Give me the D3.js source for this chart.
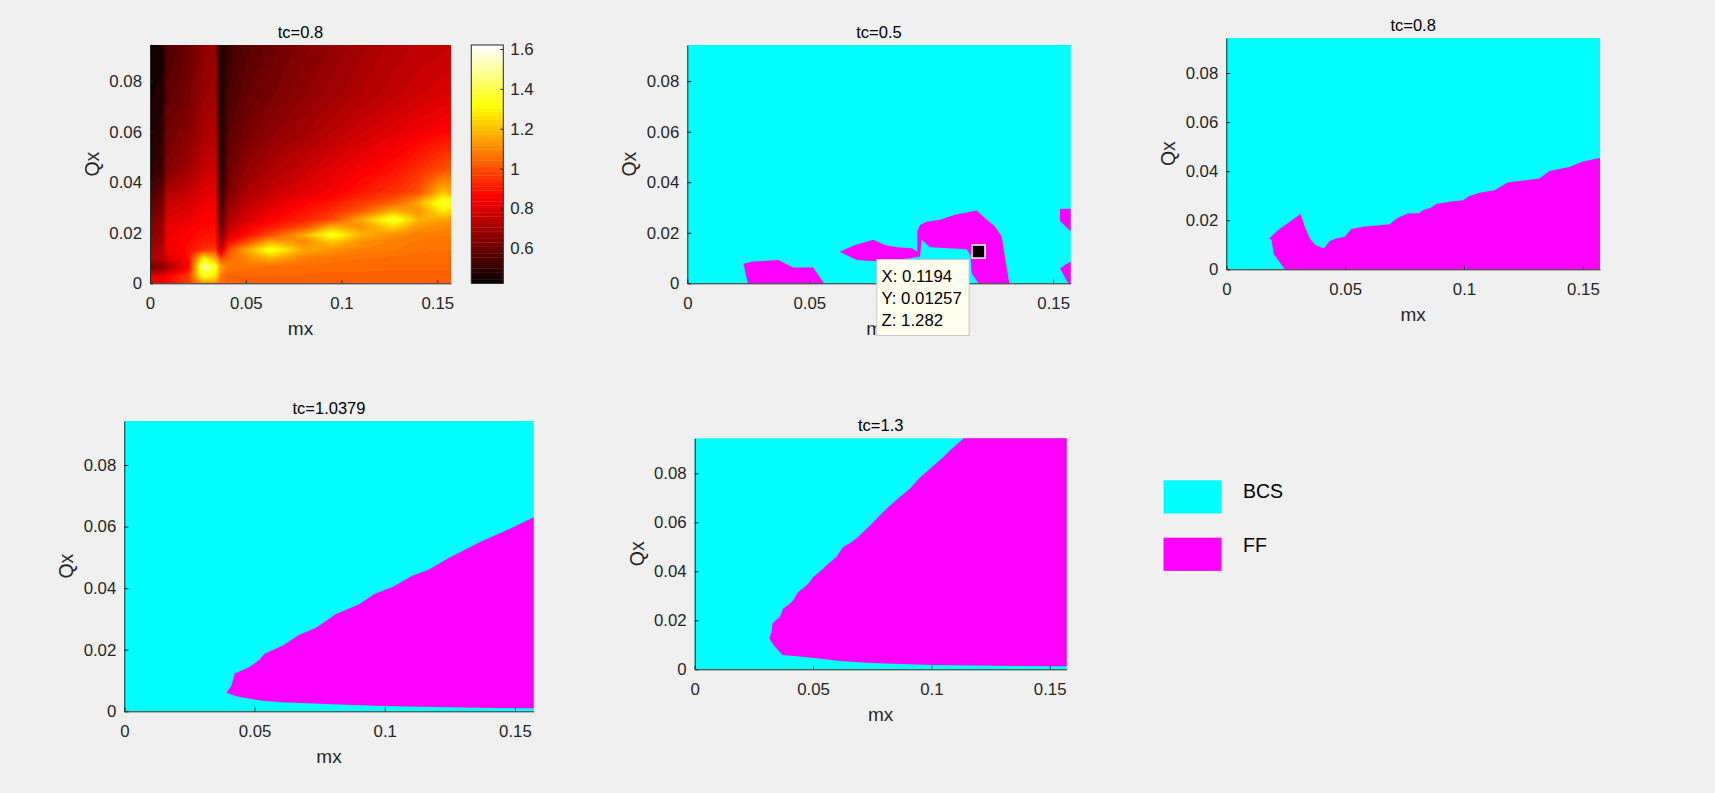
<!DOCTYPE html>
<html>
<head>
<meta charset="utf-8">
<script src="https://cdn.jsdelivr.net/npm/d3@7"></script>
<style>
  body { margin: 0; background: #f0f0f0; }
  svg text { font-family: "Liberation Sans", Arial, sans-serif; }
</style>
</head>
<body>
<svg id="fig" width="1715" height="793"></svg>
<script>
// ---- data ----
const mxTicks = [0, 0.05, 0.1, 0.15];
const qxTicks = [0, 0.02, 0.04, 0.06, 0.08];
const zTicks = [0.6, 0.8, 1, 1.2, 1.4, 1.6];
const mxMax = 0.1572;
const qxMax = 0.0943;
const zLim = [0.425, 1.62];

// heat map (tc=0.8) sampled on a coarse grid
const heatMx = [0, 0.006, 0.009, 0.02, 0.028, 0.034, 0.037, 0.041, 0.05, 0.063, 0.08, 0.095, 0.11, 0.127, 0.14, 0.153, 0.1572];
const heatQx = [0, 0.003, 0.0066, 0.01, 0.0133, 0.0165, 0.0192, 0.0222, 0.0252, 0.0285, 0.0319, 0.036, 0.045, 0.06, 0.075, 0.0943];
const heatZ = [
  [.84,.85,.88,.97,1.12,1.12,1.05,1.03,1.03,1.03,1.03,1.03,1.03,1.03,1.03,1.03,1.03],
  [.80,.82,.86,.95,1.36,1.28,1.08,1.04,1.04,1.04,1.04,1.035,1.035,1.035,1.035,1.035,1.035],
  [.62,.64,.70,.85,1.50,1.36,1.14,1.08,1.07,1.06,1.05,1.05,1.05,1.045,1.045,1.045,1.045],
  [.72,.74,.80,.88,1.28,1.15,.98,1.04,1.10,1.18,1.09,1.07,1.06,1.055,1.05,1.05,1.05],
  [.70,.72,.84,.88,.95,.97,.75,1.00,1.15,1.36,1.16,1.12,1.09,1.08,1.065,1.06,1.06],
  [.67,.70,.84,.87,.91,.92,.68,.86,.98,1.16,1.10,1.22,1.12,1.09,1.075,1.07,1.07],
  [.66,.69,.83,.86,.89,.90,.63,.80,.88,.99,1.16,1.36,1.18,1.11,1.09,1.08,1.08],
  [.65,.68,.82,.85,.87,.88,.60,.76,.84,.91,1.00,1.18,1.12,1.24,1.12,1.10,1.10],
  [.63,.66,.80,.83,.86,.87,.57,.72,.79,.86,.92,.99,1.16,1.38,1.18,1.15,1.14],
  [.60,.64,.78,.81,.85,.86,.55,.70,.77,.83,.89,.94,1.02,1.18,1.12,1.28,1.24],
  [.58,.62,.76,.79,.83,.84,.53,.67,.74,.80,.86,.90,.96,1.03,1.16,1.38,1.36],
  [.55,.58,.72,.76,.81,.82,.50,.64,.71,.76,.81,.85,.90,.95,1.00,1.20,1.16],
  [.50,.52,.64,.70,.76,.78,.48,.60,.67,.72,.77,.81,.85,.89,.94,1.00,1.02],
  [.47,.49,.61,.65,.71,.73,.47,.57,.62,.66,.70,.74,.775,.81,.84,.865,.875],
  [.46,.47,.58,.62,.68,.70,.46,.54,.59,.625,.665,.695,.725,.755,.775,.795,.80],
  [.44,.45,.55,.60,.66,.68,.45,.52,.565,.60,.64,.67,.70,.73,.745,.755,.76]
];

// FF regions [mx, Qx] (everything else is BCS)
const ffTc05 = [
  [[.0248,0],[.0230,.0077],[.0270,.0086],[.0373,.0092],[.0434,.0063],[.0516,.0063],[.0560,0]],
  [[.0625,.0125],[.0687,.0152],[.0762,.0172],[.0810,.0152],[.0858,.0143],[.0920,.0139],[.0943,.0125],
   [.0943,.0205],[.0954,.0231],[.0981,.0244],[.1036,.0251],[.1097,.0271],[.1186,.0288],[.1213,.0264],
   [.1261,.0225],[.1289,.0185],[.1302,.0106],[.1320,0],[.1193,0],[.1166,.0040],[.1161,.0112],
   [.1145,.0135],[.0995,.0143],[.0961,.0172],[.0954,.0106],[.0913,.0099],[.0783,.0086],[.0694,.0092]],
  [[.1528,.0294],[.1572,.0295],[.1572,.0205],[.1528,.0248]],
  [[.1528,.0060],[.1572,.0086],[.1572,0],[.1562,0]]
];
const ffTc08 = [
  [[.0246,0],[.0200,.0061],[.0190,.0119],[.0181,.0126],[.0218,.0160],[.0267,.0194],[.0312,.0225],
   [.0330,.0173],[.0351,.0126],[.0375,.0099],[.0410,.0085],[.0435,.0115],[.0463,.0126],[.0498,.0133],
   [.0526,.0164],[.0575,.0173],[.0687,.0184],[.0722,.0210],[.0764,.0228],[.0813,.0230],[.0827,.0241],
   [.0862,.0252],[.0883,.0266],[.0939,.0275],[.0995,.0282],[.1023,.0299],[.1065,.0312],[.1128,.0322],
   [.1184,.0354],[.1233,.0360],[.1317,.0370],[.1359,.0401],[.1443,.0417],[.1499,.0440],[.1572,.0454],
   [.1572,0]]
];
const ffTc10379 = [
  [[.0392,.0060],[.0411,.0082],[.0424,.0123],[.0481,.0144],[.0520,.0168],[.0538,.0187],[.0609,.0214],
   [.0672,.0249],[.0736,.0271],[.0813,.0316],[.0902,.0348],[.0960,.0381],[.1030,.0404],[.1106,.0440],
   [.1170,.0461],[.1247,.0499],[.1323,.0531],[.1374,.0553],[.1489,.0596],[.1572,.0630],[.1572,.0010],
   [.1502,.0010],[.1247,.0013],[.0991,.0017],[.0800,.0023],[.0609,.0029],[.0532,.0034],[.0481,.0041],
   [.0430,.0049]]
];
const ffTc13 = [
  [[.1137,.0943],[.1077,.0892],[.1042,.0858],[.1000,.0824],[.0950,.0781],[.0908,.0736],[.0866,.0702],
   [.0824,.0668],[.0782,.0628],[.0733,.0580],[.0690,.0540],[.0662,.0519],[.0627,.0499],[.0599,.0458],
   [.0564,.0431],[.0536,.0404],[.0501,.0377],[.0487,.0357],[.0465,.0336],[.0437,.0316],[.0416,.0282],
   [.0402,.0268],[.0374,.0248],[.0360,.0214],[.0346,.0203],[.0329,.0187],[.0325,.0153],[.0315,.0126],
   [.0339,.0092],[.0371,.0058],[.0444,.0052],[.0515,.0045],[.0613,.0034],[.0725,.0027],[.0866,.0022],
   [.1007,.0018],[.1288,.0014],[.1572,.0012],[.1572,.0943]]
];

const tipPoint = [0.1194, 0.01257, 1.282];
const legendLabels = ["BCS", "FF"];

// ---- layout / style ----
const BCS = "#00ffff", FF = "#ff00ff", AX = "#262626";
const FONT = "Liberation Sans, Arial, sans-serif";
const panels = [
  { title: "tc=0.8",    box: [150, 45, 451, 283.3], heat: true },
  { title: "tc=0.5",    box: [687.3, 45, 1070.7, 283.3], ff: ffTc05, tip: true },
  { title: "tc=0.8",    box: [1226.3, 38, 1600, 269.3], ff: ffTc08 },
  { title: "tc=1.0379", box: [124.3, 421, 533.7, 711.3], ff: ffTc10379 },
  { title: "tc=1.3",    box: [694.7, 438.3, 1066.7, 669.3], ff: ffTc13 }
];
const cbBox = [471.3, 45, 503.3, 283.3];

const svg = d3.select("#fig");

// MATLAB hot(64)
function hot(k) {
  const m = 64, n = 24;
  const r = k < n ? (k + 1) / n : 1;
  const g = k < n ? 0 : (k < 2 * n ? (k - n + 1) / n : 1);
  const b = k < 2 * n ? 0 : (k - 2 * n + 1) / (m - 2 * n);
  return [Math.round(r * 255), Math.round(g * 255), Math.round(b * 255)];
}
function zIndex(v) {
  const k = Math.floor((v - zLim[0]) / (zLim[1] - zLim[0]) * 64);
  return Math.max(0, Math.min(63, k));
}

function heatValue(mx, qx) {
  const i = Math.max(0, Math.min(heatMx.length - 2, d3.bisectRight(heatMx, mx) - 1));
  const j = Math.max(0, Math.min(heatQx.length - 2, d3.bisectRight(heatQx, qx) - 1));
  const tx = Math.max(0, Math.min(1, (mx - heatMx[i]) / (heatMx[i + 1] - heatMx[i])));
  const ty = Math.max(0, Math.min(1, (qx - heatQx[j]) / (heatQx[j + 1] - heatQx[j])));
  const a = heatZ[j][i], b = heatZ[j][i + 1], c = heatZ[j + 1][i], d = heatZ[j + 1][i + 1];
  return (a * (1 - tx) + b * tx) * (1 - ty) + (c * (1 - tx) + d * tx) * ty;
}

function drawHeat(g, x, y, box) {
  const w = Math.round(box[2] - box[0]), h = Math.round(box[3] - box[1]);
  const canvas = document.createElement("canvas");
  canvas.width = w; canvas.height = h;
  const ctx = canvas.getContext("2d");
  const img = ctx.createImageData(w, h);
  for (let py = 0; py < h; py++) {
    const qx = y.invert(box[1] + (py + 0.5) * (box[3] - box[1]) / h);
    for (let px = 0; px < w; px++) {
      const mx = x.invert(box[0] + (px + 0.5) * (box[2] - box[0]) / w);
      const c = hot(zIndex(heatValue(mx, qx)));
      const o = (py * w + px) * 4;
      img.data[o] = c[0]; img.data[o + 1] = c[1]; img.data[o + 2] = c[2]; img.data[o + 3] = 255;
    }
  }
  ctx.putImageData(img, 0, 0);
  g.append("image")
    .attr("x", box[0]).attr("y", box[1])
    .attr("width", box[2] - box[0]).attr("height", box[3] - box[1])
    .attr("preserveAspectRatio", "none")
    .attr("href", canvas.toDataURL());
}

const line = d3.line();

panels.forEach(p => {
  const box = p.box;
  const x = d3.scaleLinear().domain([0, mxMax]).range([box[0], box[2]]);
  const y = d3.scaleLinear().domain([0, qxMax]).range([box[3], box[1]]);
  const g = svg.append("g");

  if (p.heat) {
    drawHeat(g, x, y, box);
  } else {
    g.append("rect")
      .attr("x", x(0)).attr("y", y(qxMax))
      .attr("width", x(mxMax) - x(0)).attr("height", y(0) - y(qxMax))
      .attr("fill", BCS);
    g.selectAll(".ff").data(p.ff).enter().append("path")
      .attr("class", "ff")
      .attr("d", d => line(d.map(q => [x(q[0]), y(q[1])])) + "Z")
      .attr("fill", FF);
  }

  const tl = 0.01 * Math.max(box[2] - box[0], box[3] - box[1]);
  const xa = g.append("g")
    .attr("transform", "translate(0," + box[3] + ")")
    .call(d3.axisBottom(x).tickValues(mxTicks).tickFormat(d => String(d))
      .tickSizeInner(-tl).tickSizeOuter(0).tickPadding(14));
  const ya = g.append("g")
    .attr("transform", "translate(" + box[0] + ",0)")
    .call(d3.axisLeft(y).tickValues(qxTicks).tickFormat(d => String(d))
      .tickSizeInner(-tl).tickSizeOuter(0).tickPadding(8));
  [xa, ya].forEach(a => {
    a.attr("font-family", FONT).attr("font-size", 16.8).attr("color", AX);
    a.selectAll("text").attr("fill", AX);
  });

  g.append("text")
    .attr("x", (box[0] + box[2]) / 2).attr("y", box[1] - 7)
    .attr("text-anchor", "middle").attr("font-size", 16.5).attr("fill", "#000")
    .text(p.title);
  g.append("text")
    .attr("x", (box[0] + box[2]) / 2).attr("y", box[3] + 51.5)
    .attr("text-anchor", "middle").attr("font-size", 19).attr("fill", AX)
    .text("mx");
  g.append("text")
    .attr("transform", "translate(" + (box[0] - 51) + "," + ((box[1] + box[3]) / 2) + ") rotate(-90)")
    .attr("text-anchor", "middle").attr("font-size", 19.5).attr("fill", AX)
    .text("Qx");

  if (p.tip) {
    const tx = x(tipPoint[0]), ty = y(tipPoint[1]);
    const tip = g.append("g");
    tip.append("rect")
      .attr("x", tx - 101.7).attr("y", ty + 8)
      .attr("width", 92.3).attr("height", 76)
      .attr("fill", "#fffff0").attr("stroke", "#c8c8c8").attr("stroke-width", 1);
    const lines = ["X: " + tipPoint[0], "Y: " + tipPoint[1], "Z: " + tipPoint[2]];
    tip.selectAll("text").data(lines).enter().append("text")
      .attr("x", tx - 97).attr("y", (d, i) => ty + 30.7 + i * 22)
      .attr("font-size", 16.8).attr("fill", "#000")
      .text(d => d);
    tip.append("rect")
      .attr("x", tx - 6.5).attr("y", ty - 6.5)
      .attr("width", 13).attr("height", 13)
      .attr("fill", "#000").attr("stroke", "#fff").attr("stroke-width", 1.5);
  }
});

// colorbar
const cb = svg.append("g");
const zScale = d3.scaleLinear().domain(zLim).range([cbBox[3], cbBox[1]]);
const zStep = (zLim[1] - zLim[0]) / 64;
cb.selectAll("rect.band").data(d3.range(64)).enter().append("rect")
  .attr("class", "band")
  .attr("x", cbBox[0]).attr("width", cbBox[2] - cbBox[0])
  .attr("y", k => zScale(zLim[0] + (k + 1) * zStep))
  .attr("height", k => zScale(zLim[0] + k * zStep) - zScale(zLim[0] + (k + 1) * zStep) + 0.3)
  .attr("fill", k => "rgb(" + hot(k).join(",") + ")");
cb.append("rect")
  .attr("x", cbBox[0]).attr("y", cbBox[1])
  .attr("width", cbBox[2] - cbBox[0]).attr("height", cbBox[3] - cbBox[1])
  .attr("fill", "none").attr("stroke", AX).attr("stroke-width", 1);
const za = cb.append("g")
  .attr("transform", "translate(" + cbBox[2] + ",0)")
  .call(d3.axisRight(zScale).tickValues(zTicks).tickFormat(d => String(d))
    .tickSizeInner(-3).tickSizeOuter(0).tickPadding(7));
za.attr("font-family", FONT).attr("font-size", 16.8).attr("color", AX);
za.select(".domain").remove();

// legend
const legendFill = [BCS, FF];
const lg = svg.append("g");
lg.selectAll("rect").data(legendLabels).enter().append("rect")
  .attr("x", 1163.5).attr("y", (d, i) => 480.3 + i * 57.4)
  .attr("width", 58).attr("height", 33.2)
  .attr("fill", (d, i) => legendFill[i]);
lg.selectAll("text").data(legendLabels).enter().append("text")
  .attr("x", 1243).attr("y", (d, i) => 497.8 + i * 53.8)
  .attr("font-size", 19.5).attr("fill", "#000")
  .text(d => d);
</script>
</body>
</html>
